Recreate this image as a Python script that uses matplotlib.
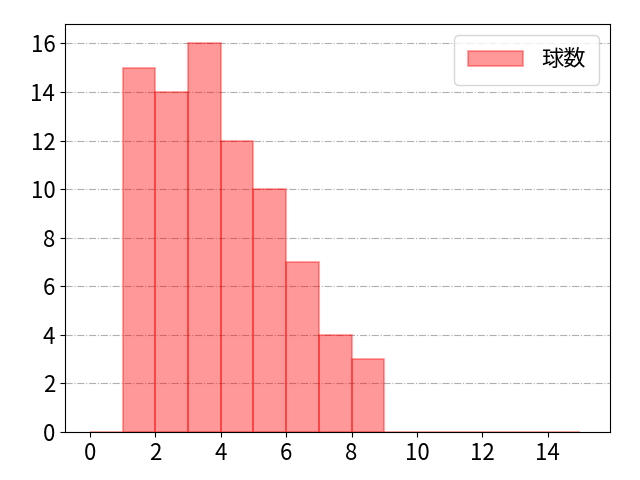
import numpy as np
import matplotlib
matplotlib.use("Agg")
import matplotlib.pyplot as plt

plt.rcParams['font.family'] = ['Noto Sans CJK JP', 'DejaVu Sans']
plt.rcParams['font.size'] = 16

# pitch count per bin (bins of width 1 from 0 to 15)
bin_left = np.arange(0, 15)
counts = [0, 15, 14, 16, 12, 10, 7, 4, 3, 0, 0, 0, 0, 0, 0]
label = "球数"

fig, ax = plt.subplots(figsize=(6.4, 4.8), dpi=100)
fig.subplots_adjust(left=0.1016, right=0.953, top=0.95, bottom=0.1)
ax.bar(bin_left, counts, width=1.0, align='edge', color='red', alpha=0.4,
       edgecolor='red', linewidth=1.2, label=label)
ax.set_xlim(-0.76, 15.9)
ax.set_xticks(np.arange(0, 16, 2))
ax.set_yticks(np.arange(0, 17, 2))
ax.grid(axis='y', linestyle='-.', color='#b0b0b0')
ax.set_axisbelow(True)
ax.legend(loc='upper right', handlelength=2.5, borderpad=0.6)
fig.savefig("out.png")
